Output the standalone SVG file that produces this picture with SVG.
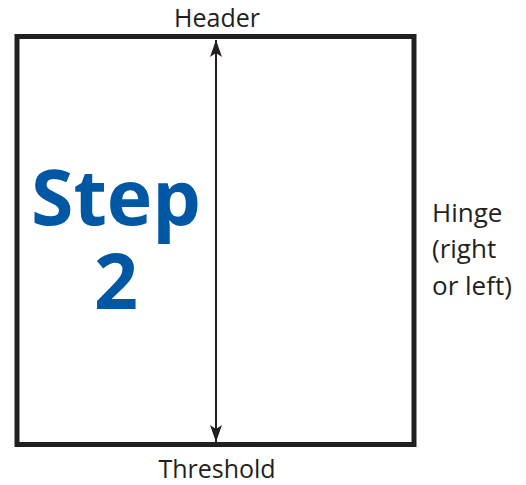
<svg xmlns="http://www.w3.org/2000/svg" width="526" height="485" viewBox="0 0 526 485">
<style>
.lbl{font-family:"Open Sans","Liberation Sans",sans-serif;font-size:25px;fill:#231f20}
.big{font-family:"Open Sans","Liberation Sans",sans-serif;font-weight:bold;font-size:77px;fill:#0057a4}
</style>
<defs>
<marker id="ah" viewBox="0 0 17 12" refX="17" refY="6" markerWidth="17" markerHeight="12" markerUnits="userSpaceOnUse" orient="auto-start-reverse">
<path d="M0,0 L17,6 L0,12 L4,6 Z" fill="#231f20"/>
</marker>
</defs>
<rect width="526" height="485" fill="#fff"/>
<g id="door">
<rect x="17" y="36.5" width="397" height="408" fill="none" stroke="#231f20" stroke-width="5"/>
</g>
<g id="connectors">
<line x1="216" y1="40" x2="216" y2="442" stroke="#231f20" stroke-width="2" marker-start="url(#ah)" marker-end="url(#ah)"/>
</g>
<g id="step">
<text class="big" text-anchor="middle"><tspan x="116" y="225">Step</tspan><tspan x="116" y="309">2</tspan></text>
</g>
<g id="header"><text class="lbl" x="217" y="27" text-anchor="middle">Header</text></g>
<g id="threshold"><text class="lbl" x="217" y="478" text-anchor="middle">Threshold</text></g>
<g id="hinge">
<text class="lbl" style="font-size:26px"><tspan x="432" y="222">Hinge</tspan><tspan x="432" y="258">(right</tspan><tspan x="432" y="295">or left)</tspan></text>
</g>
</svg>
